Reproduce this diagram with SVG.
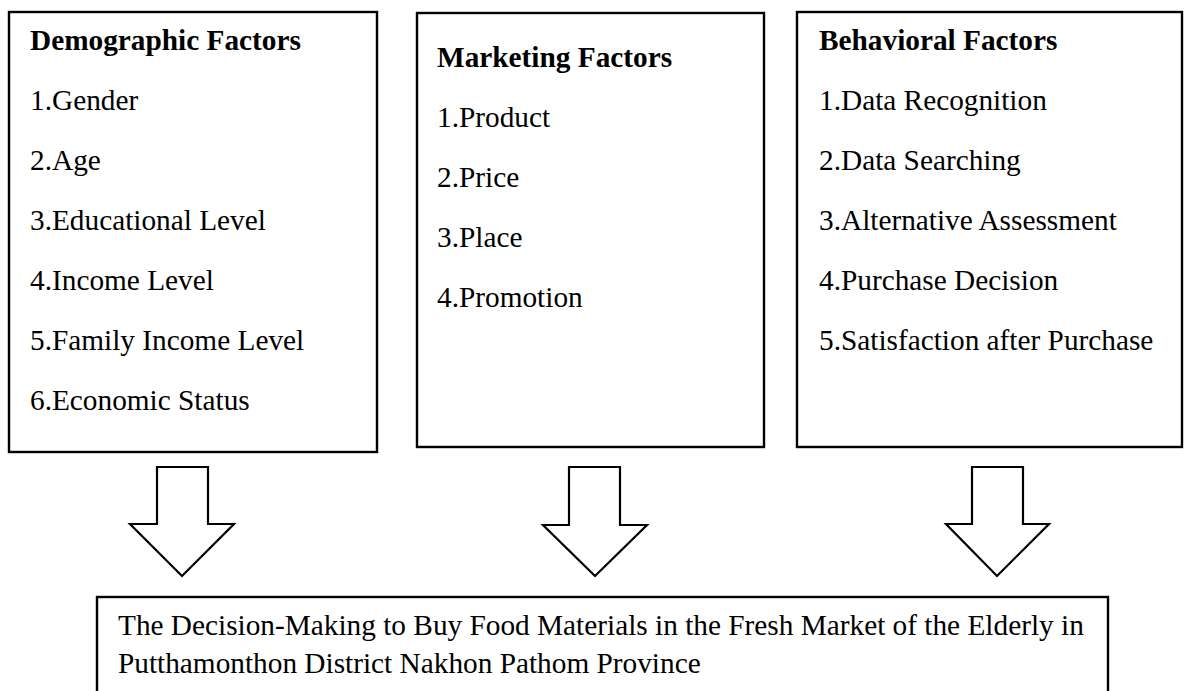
<svg xmlns="http://www.w3.org/2000/svg" width="1184" height="691" viewBox="0 0 1184 691">
<style>
.box{fill:#fff;stroke:#000;stroke-width:2.4}
.arr{fill:#fff;stroke:#000;stroke-width:2.2;stroke-linejoin:miter}
text{font-family:"Liberation Serif","Times New Roman",serif;font-size:29.3px;fill:#000}
.h{font-weight:bold}
</style>
<rect width="1184" height="691" fill="#fff"/>
<g id="demographic">
<rect class="box" x="9" y="12" width="368" height="440"/>
<text class="h" x="30" y="50">Demographic Factors</text>
<text x="30" y="110">1.Gender</text>
<text x="30" y="170">2.Age</text>
<text x="30" y="230">3.Educational Level</text>
<text x="30" y="290">4.Income Level</text>
<text x="30" y="350">5.Family Income Level</text>
<text x="30" y="410">6.Economic Status</text>
</g>
<g id="marketing">
<rect class="box" x="417" y="13" width="347" height="434"/>
<text class="h" x="437" y="67">Marketing Factors</text>
<text x="437" y="127">1.Product</text>
<text x="437" y="187">2.Price</text>
<text x="437" y="247">3.Place</text>
<text x="437" y="307">4.Promotion</text>
</g>
<g id="behavioral">
<rect class="box" x="797" y="12" width="385" height="435"/>
<text class="h" x="819" y="50">Behavioral Factors</text>
<text x="819" y="110">1.Data Recognition</text>
<text x="819" y="170">2.Data Searching</text>
<text x="819" y="230">3.Alternative Assessment</text>
<text x="819" y="290">4.Purchase Decision</text>
<text x="819" y="350">5.Satisfaction after Purchase</text>
</g>
<g id="connectors">
<polygon class="arr" points="157,467 208,467 208,524 234,524 182,576 130,524 157,524"/>
<polygon class="arr" points="569,467 620,467 620,525 647,525 595,576 543,525 569,525"/>
<polygon class="arr" points="972,467 1023,467 1023,524 1049,524 997,576 946,524 972,524"/>
</g>
<g id="decision">
<rect class="box" x="97" y="597" width="1011" height="120"/>
<text x="118" y="635">The Decision-Making to Buy Food Materials in the Fresh Market of the Elderly in</text>
<text x="118" y="673">Putthamonthon District Nakhon Pathom Province</text>
</g>
</svg>
